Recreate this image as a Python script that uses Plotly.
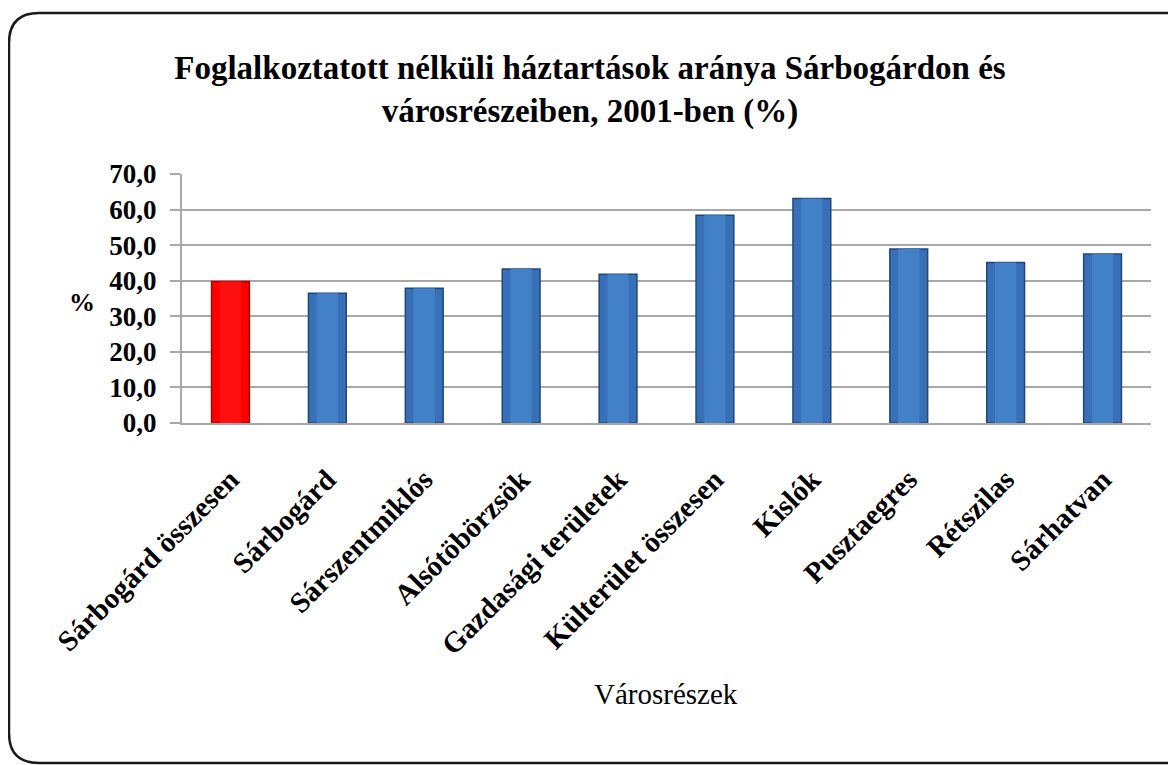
import plotly.graph_objects as go

categories = ["Sárbogárd összesen", "Sárbogárd", "Sárszentmiklós", "Alsótöbörzsök",
              "Gazdasági területek", "Külterület összesen", "Kislók", "Pusztaegres",
              "Rétszilas", "Sárhatvan"]
values = [39.8, 36.5, 37.9, 43.3, 41.8, 58.4, 63.1, 48.9, 45.1, 47.5]
highlight = "Sárbogárd összesen"
y_ticks = [0, 10, 20, 30, 40, 50, 60, 70]

# page has an 8px body margin; work in screen coordinates and convert
OFF = 8
W, H = 1176 - OFF, 765 - OFF
L, R, T, B = 182 - OFF, 25, 174 - OFF, 342
PW, PH = W - L - R, H - T - B

FONT = "Liberation Serif"

fill = ["#ff0000" if c == highlight else "#3870b8" for c in categories]
edge = ["#b00000" if c == highlight else "#21467a" for c in categories]
light = ["#ff1010" if c == highlight else "#4280c8" for c in categories]

fig = go.Figure()
fig.add_trace(go.Bar(x=categories, y=values, width=0.39,
                     marker=dict(color=fill, line=dict(color=edge, width=1.5)),
                     hoverinfo="x+y"))
fig.add_trace(go.Bar(x=categories, y=values, width=0.22,
                     marker=dict(color=light, line=dict(width=0)),
                     hoverinfo="skip"))

def px(x):
    return (x - OFF - L) / PW

def py(y):
    return (H - B - (y - OFF)) / PH

# rounded frame (screen coords)
x0, y0, x1, y1, r = 9, 13, 1200, 763, 30
path = (f"M {px(x0)},{py(y0 + r)} "
        f"Q {px(x0)},{py(y0)} {px(x0 + r)},{py(y0)} "
        f"L {px(x1 - r)},{py(y0)} "
        f"Q {px(x1)},{py(y0)} {px(x1)},{py(y0 + r)} "
        f"L {px(x1)},{py(y1 - r)} "
        f"Q {px(x1)},{py(y1)} {px(x1 - r)},{py(y1)} "
        f"L {px(x0 + r)},{py(y1)} "
        f"Q {px(x0)},{py(y1)} {px(x0)},{py(y1 - r)} Z")
fig.add_shape(type="path", path=path, xref="paper", yref="paper",
              line=dict(color="#1a1a1a", width=2.5), layer="below")

fig.update_layout(
    width=W, height=H,
    margin=dict(l=L, r=R, t=T, b=B),
    paper_bgcolor="white", plot_bgcolor="white",
    barmode="overlay", showlegend=False,
    separators=", ",
    font=dict(family=FONT, color="black"),
    title=dict(text="<b>Foglalkoztatott nélküli háztartások aránya Sárbogárdon és<br>városrészeiben, 2001-ben (%)</b>",
               x=(590 - OFF) / W, xref="container", xanchor="center",
               y=1 - (79 - OFF) / H, yref="container", yanchor="middle",
               font=dict(family=FONT, size=33, color="black")),
)

fig.update_yaxes(range=[0, 70], tickvals=y_ticks, tickformat=".1f",
                 showgrid=True, gridcolor="#a8a8a8", gridwidth=2,
                 showline=True, linecolor="#a8a8a8", linewidth=2,
                 ticks="outside", ticklen=10, tickcolor="#a8a8a8", tickwidth=2,
                 ticklabelstandoff=8,
                 tickfont=dict(family=FONT, size=27, color="black", weight="bold"),
                 zeroline=False)
fig.update_xaxes(showline=True, linecolor="#a8a8a8", linewidth=2,
                 tickangle=-45, ticks="", ticklabelstandoff=26,
                 tickfont=dict(family=FONT, size=29, color="black", weight="bold"))

fig.add_annotation(text="<b>%</b>", x=px(67), y=py(302), xref="paper", yref="paper",
                   showarrow=False, font=dict(family=FONT, size=26, color="black"))
fig.add_annotation(text="Városrészek", x=px(666), y=py(712), xref="paper", yref="paper",
                   showarrow=False, font=dict(family=FONT, size=29, color="black"))

fig.write_html("out.html")
